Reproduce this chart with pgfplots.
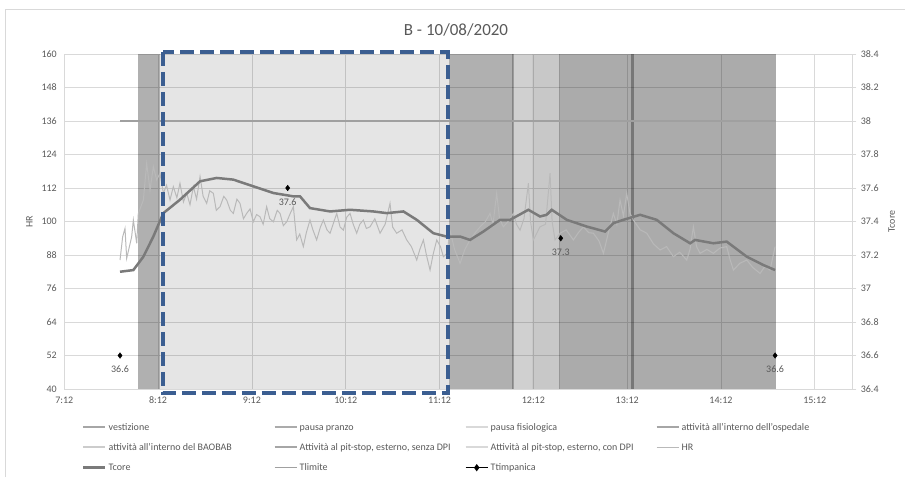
\documentclass[border=0pt]{standalone}
\usepackage{pgfplots}
\pgfplotsset{compat=1.18}
\usepackage{fontspec}
\setmainfont{Carlito}
\definecolor{txt}{HTML}{595959}
\definecolor{gridc}{HTML}{D9D9D9}
\definecolor{hrc}{HTML}{B9B9B9}
\definecolor{tcorec}{HTML}{7A7A7A}
\definecolor{tlimc}{HTML}{A0A0A0}
\definecolor{boxc}{HTML}{3B5E91}

\pgfplotstableread{
h hr
7.794 86.2
7.822 94.5
7.847 97.5
7.865 86.8
7.918 94.5
7.936 100.5
7.972 92.2
7.989 102.9
8.043 107.7
8.078 120.8
8.114 111.3
8.149 119.6
8.185 114.9
8.220 117.3
8.256 110.1
8.290 113.0
8.327 107.7
8.362 112.5
8.400 108.5
8.433 113.7
8.470 107.0
8.505 110.1
8.540 106.0
8.576 112.5
8.610 108.0
8.647 116.1
8.680 109.0
8.718 106.5
8.750 111.0
8.789 110.1
8.820 104.0
8.860 105.3
8.900 109.0
8.931 107.7
8.970 104.0
9.002 102.9
9.040 108.0
9.073 106.5
9.110 101.0
9.144 102.9
9.180 104.5
9.215 99.9
9.250 102.5
9.286 101.7
9.320 99.0
9.357 105.3
9.390 101.0
9.429 99.9
9.470 104.0
9.500 102.9
9.535 98.5
9.571 99.9
9.610 103.0
9.642 105.3
9.660 99.0
9.677 93.4
9.710 95.5
9.748 91.0
9.780 96.0
9.819 100.5
9.850 97.0
9.890 93.4
9.930 98.0
9.962 100.5
10.000 97.0
10.033 95.8
10.070 99.5
10.104 102.9
10.140 98.0
10.175 96.9
10.210 101.5
10.246 102.9
10.280 99.0
10.317 95.8
10.350 99.0
10.388 100.5
10.420 97.5
10.459 98.1
10.510 101.0
10.566 95.8
10.620 99.0
10.672 106.5
10.700 98.0
10.743 95.8
10.800 97.0
10.850 93.4
10.900 91.0
10.957 86.2
10.990 90.0
11.028 93.4
11.060 88.0
11.099 82.6
11.130 88.0
11.170 93.4
11.210 91.0
11.241 87.4
11.280 88.6
11.312 96.9
11.360 90.0
11.419 85.0
11.470 90.0
11.525 93.4
11.580 96.0
11.632 98.1
11.690 100.0
11.738 102.9
11.770 99.0
11.809 110.1
11.840 101.0
11.880 98.1
11.930 100.0
11.987 102.9
12.020 99.0
12.058 96.9
12.100 101.0
12.147 113.7
12.170 100.0
12.200 93.4
12.240 96.0
12.271 98.1
12.330 99.0
12.378 117.3
12.400 100.0
12.431 93.4
12.485 95.8
12.550 97.0
12.627 93.4
12.680 96.0
12.733 98.1
12.790 96.0
12.840 95.8
12.900 93.0
12.947 88.6
13.000 96.0
13.053 102.9
13.090 99.0
13.124 107.7
13.160 102.0
13.195 110.1
13.230 103.0
13.266 100.5
13.340 97.0
13.409 95.8
13.480 92.0
13.551 89.8
13.620 91.0
13.693 87.4
13.760 89.0
13.835 86.2
13.870 90.0
13.906 98.1
13.940 91.0
13.977 88.6
14.050 90.0
14.119 88.6
14.190 90.5
14.261 91.0
14.300 86.0
14.333 82.6
14.400 85.0
14.475 86.2
14.540 83.5
14.617 81.4
14.670 84.0
14.723 82.6
14.777 91.0
}\hrdata

\pgfplotstableread{
h t
7.794 37.10
7.936 37.11
8.043 37.19
8.149 37.31
8.256 37.45
8.433 37.53
8.647 37.64
8.824 37.66
9.002 37.65
9.215 37.61
9.429 37.57
9.642 37.55
9.713 37.55
9.819 37.48
10.033 37.46
10.246 37.47
10.495 37.46
10.637 37.45
10.815 37.46
10.957 37.41
11.134 37.33
11.276 37.31
11.419 37.31
11.525 37.29
11.667 37.34
11.845 37.41
11.952 37.41
12.147 37.47
12.271 37.43
12.342 37.44
12.396 37.47
12.556 37.41
12.769 37.37
12.964 37.34
13.053 37.39
13.160 37.41
13.338 37.44
13.515 37.41
13.693 37.33
13.871 37.27
13.924 37.29
14.119 37.27
14.261 37.28
14.475 37.19
14.652 37.14
14.777 37.11
}\tcoredata

\pgfplotstableread{
h t
7.794 36.6
9.581 37.6
12.492 37.3
14.777 36.6
}\ttimpdata

\begin{document}
\begin{tikzpicture}
\path[use as bounding box] (0,0) rectangle (905pt,477pt);
\draw[gridc, line width=0.8pt] (5.5pt,0pt) -- (5.5pt,468pt) -- (905pt,468pt);
\node[text=txt, font=\fontsize{17}{20}\selectfont] at (456pt,447pt) {B - 10/08/2020};

\begin{axis}[
  at={(64.3pt,88pt)}, anchor=south west, scale only axis,
  width=788pt, height=335pt,
  xmin=7.2, xmax=15.6, ymin=40, ymax=160,
  xtick={7.2,8.2,9.2,10.2,11.2,12.2,13.2,14.2,15.2},
  xticklabels={7:12,8:12,9:12,10:12,11:12,12:12,13:12,14:12,15:12},
  ytick={40,52,64,76,88,100,112,124,136,148,160},
  grid=major, grid style={gridc, line width=0.8pt},
  axis line style={gridc, line width=0.8pt},
  major tick length=0pt,
  /pgf/number format/assume math mode=true,
  tick label style={font=\fontsize{10}{12}\selectfont, text=txt},
  xticklabel style={yshift=-4pt},
  yticklabel style={xshift=-4pt},
  ylabel=HR,
  ylabel style={at={(axis description cs:-0.0444,0.5)}, anchor=center, font=\fontsize{10}{12}\selectfont, text=txt},
  legend columns=4,
  legend cell align=left,
  legend style={at={(axis description cs:0.0225,-0.097)}, anchor=north west, draw=none, fill=none,
    font=\fontsize{10}{11}\selectfont, text=txt, inner sep=0pt, row sep=9pt,
    nodes={inner sep=1pt},
    /tikz/every odd column/.append style={column sep=1pt}},
  legend image code/.code={\draw[mark repeat=2,mark phase=2,#1] plot coordinates {(0pt,0pt) (11pt,0pt) (22pt,0pt)};},
]
% activity shading
\addplot[draw=none, fill=black, fill opacity=0.31, forget plot] coordinates {(7.989,160) (8.22,160)} \closedcycle;
\addplot[draw=none, fill=black, fill opacity=0.10, forget plot] coordinates {(8.22,160) (11.30,160)} \closedcycle;
\addplot[draw=none, fill=black, fill opacity=0.31, forget plot] coordinates {(11.30,160) (11.987,160)} \closedcycle;
\addplot[draw=none, fill=black, fill opacity=0.185, forget plot] coordinates {(11.987,160) (12.183,160)} \closedcycle;
\addplot[draw=none, fill=black, fill opacity=0.215, forget plot] coordinates {(12.183,160) (12.477,160)} \closedcycle;
\addplot[draw=none, fill=black, fill opacity=0.33, forget plot] coordinates {(12.477,160) (14.787,160)} \closedcycle;
\addplot[draw=none, fill=black, fill opacity=0.25, forget plot] coordinates {(11.975,160) (11.995,160)} \closedcycle;
\addplot[draw=none, fill=black, fill opacity=0.12, forget plot] coordinates {(12.470,160) (12.485,160)} \closedcycle;
\addplot[draw=none, fill=black, fill opacity=0.3, forget plot] coordinates {(13.245,160) (13.275,160)} \closedcycle;
% HR
\addplot[hrc, line width=1pt, forget plot] table[x=h, y=hr] {\hrdata};
% Tlimite
\addplot[tlimc, line width=1.5pt, forget plot] coordinates {(7.794,136) (14.787,136)};

\addlegendimage{color=black!35, line width=2pt}\addlegendentry{\makebox[164pt][l]{\strut vestizione}}
\addlegendimage{color=black!33, line width=2pt}\addlegendentry{\makebox[164pt][l]{\strut pausa pranzo}}
\addlegendimage{color=black!15, line width=2pt}\addlegendentry{\makebox[164pt][l]{\strut pausa fisiologica}}
\addlegendimage{color=black!35, line width=2pt}\addlegendentry{\makebox[164pt][l]{\strut attività all'interno dell'ospedale}}
\addlegendimage{color=black!20, line width=2pt}\addlegendentry{\makebox[164pt][l]{\strut attività all'interno del BAOBAB}}
\addlegendimage{color=black!35, line width=2pt}\addlegendentry{\makebox[164pt][l]{\strut Attività al pit-stop, esterno, senza DPI}}
\addlegendimage{color=black!15, line width=2pt}\addlegendentry{\makebox[164pt][l]{\strut Attività al pit-stop, esterno, con DPI}}
\addlegendimage{color=hrc, line width=1.2pt}\addlegendentry{\makebox[164pt][l]{\strut HR}}
\addlegendimage{color=tcorec, line width=2.5pt}\addlegendentry{\makebox[164pt][l]{\strut Tcore}}
\addlegendimage{color=tlimc, line width=1.5pt}\addlegendentry{\makebox[164pt][l]{\strut Tlimite}}
\addlegendimage{color=black, line width=1pt, mark=diamond*, mark size=2.8pt}\addlegendentry{\makebox[164pt][l]{\strut Ttimpanica}}
\end{axis}

\begin{axis}[
  at={(64.3pt,88pt)}, anchor=south west, scale only axis,
  width=788pt, height=335pt,
  xmin=7.2, xmax=15.6, ymin=36.4, ymax=38.4,
  axis y line*=right, axis x line=none,
  ytick={36.4,36.6,36.8,37,37.2,37.4,37.6,37.8,38,38.2,38.4},
  axis line style={gridc, line width=0.8pt},
  tick align=outside, major tick length=4pt,
  ytick style={gridc, line width=0.8pt},
  /pgf/number format/assume math mode=true,
  tick label style={font=\fontsize{10}{12}\selectfont, text=txt},
  yticklabel style={xshift=1pt},
  ylabel=Tcore,
  ylabel style={at={(axis description cs:1.050,0.5)}, anchor=center, font=\fontsize{10}{12}\selectfont, text=txt},
  clip=false,
]
\addplot[tcorec, line width=2.5pt] table[x=h, y=t] {\tcoredata};
\addplot[only marks, mark=diamond*, black, mark size=2.8pt,
  point meta=y, nodes near coords,
  nodes near coords style={anchor=north, yshift=-7pt, font=\fontsize{10}{12}\selectfont, text=txt}]
  table[x=h, y=t] {\ttimpdata};
\draw[boxc, line width=4pt, dash pattern=on 14pt off 6pt] (axis cs:8.252,38.412) rectangle (axis cs:11.285,36.376);
\end{axis}
\end{tikzpicture}
\end{document}
